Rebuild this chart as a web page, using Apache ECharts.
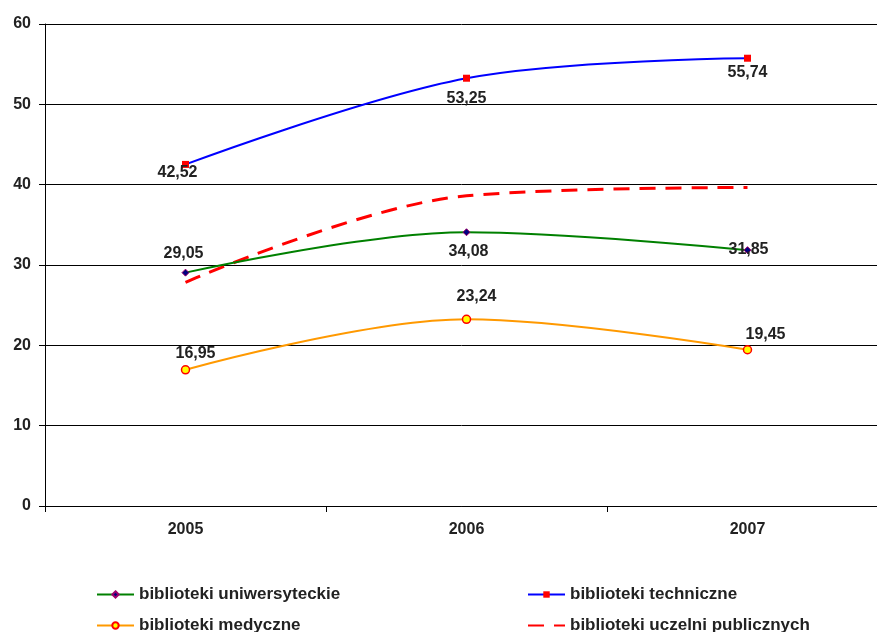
<!DOCTYPE html>
<html>
<head>
<meta charset="utf-8">
<style>
  html, body { margin: 0; padding: 0; background: #fff; }
  #chart { width: 877px; height: 632px; }
</style>
<script src="https://cdn.jsdelivr.net/npm/echarts@6/dist/echarts.min.js"></script>
</head>
<body>
<div id="chart"></div>
<script>
const years = ["2005", "2006", "2007"];
const uniwersyteckie = [29.05, 34.08, 31.85];
const techniczne = [42.52, 53.25, 55.74];
const medyczne = [16.95, 23.24, 19.45];
const uczelniPublicznych = [27.85, 38.62, 39.65];

const font = "'Liberation Sans', Arial, sans-serif";
const smoothness = 0.35;

// przesunięcia etykiet względem punktu [dx, dy]
const offsets = {
    uni: [[-2, -19], [2, 19], [1, -1]],
    tech: [[-8, 8], [0, 20], [0, 14]],
    med: [[10, -16], [10, -23], [18, -15]],
    publ: [[10, 23], [18, -17], [29, 0]]
};

const withLabels = (values, offs) =>
    values.map((v, i) => ({
        value: v,
        label: { show: true, position: "inside", offset: offs[i] }
    }));

const labelStyle = {
    fontFamily: font,
    fontWeight: "bold",
    fontSize: 16,
    color: "#222",
    formatter: p => String(p.value).replace(".", ",")
};

const legendItem = (name, left, top) => ({
    left: left,
    top: top,
    itemWidth: 37,
    itemHeight: 8,
    data: [name],
    textStyle: { fontFamily: font, fontWeight: "bold", fontSize: 17, color: "#222" }
});

const dashedLegend = legendItem("biblioteki uczelni publicznych", 522, 612);
dashedLegend.data = [{ name: "biblioteki uczelni publicznych", itemStyle: { opacity: 0 } }];

const myChart = echarts.init(document.getElementById("chart"));
myChart.setOption({
    animation: false,
    backgroundColor: "#fff",
    grid: { left: 45, top: 24, width: 843, height: 482, containLabel: false, outerBoundsMode: "none" },
    legend: [
        legendItem("biblioteki uniwersyteckie", 91, 581),
        legendItem("biblioteki medyczne", 91, 612),
        legendItem("biblioteki techniczne", 522, 581),
        dashedLegend
    ],
    xAxis: {
        type: "category",
        data: years,
        axisLine: { lineStyle: { color: "#000", width: 1 } },
        axisTick: { show: true, length: 6, lineStyle: { color: "#000" } },
        axisLabel: { margin: 16, fontFamily: font, fontWeight: "bold", fontSize: 16, color: "#222" },
        splitLine: { show: false }
    },
    yAxis: {
        type: "value",
        min: 0,
        max: 60,
        interval: 10,
        axisLine: { show: true, lineStyle: { color: "#000", width: 1 } },
        axisTick: { show: true, length: 6, lineStyle: { color: "#000" } },
        axisLabel: { margin: 14, fontFamily: font, fontWeight: "bold", fontSize: 16, color: "#222" },
        splitLine: { lineStyle: { color: "#000", width: 1 } }
    },
    series: [
        {
            name: "biblioteki uniwersyteckie",
            type: "line",
            smooth: smoothness,
            data: withLabels(uniwersyteckie, offsets.uni),
            symbol: "diamond",
            symbolSize: 7,
            lineStyle: { color: "#008000", width: 2 },
            itemStyle: { color: "#000080", borderColor: "#a0006a", borderWidth: 1 },
            label: labelStyle,
            z: 3
        },
        {
            name: "biblioteki techniczne",
            type: "line",
            smooth: smoothness,
            data: withLabels(techniczne, offsets.tech),
            symbol: "rect",
            symbolSize: 7,
            lineStyle: { color: "#0000ff", width: 2 },
            itemStyle: { color: "#ff0000" },
            label: labelStyle,
            z: 3
        },
        {
            name: "biblioteki medyczne",
            type: "line",
            smooth: smoothness,
            data: withLabels(medyczne, offsets.med),
            symbol: "circle",
            symbolSize: 8,
            lineStyle: { color: "#ff9900", width: 2 },
            itemStyle: { color: "#ffff00", borderColor: "#ff0000", borderWidth: 1.5 },
            label: labelStyle,
            z: 3
        },
        {
            name: "biblioteki uczelni publicznych",
            type: "line",
            smooth: smoothness,
            data: withLabels(uczelniPublicznych, offsets.publ),
            symbol: "none",
            lineStyle: { color: "#ff0000", width: 3, type: [16, 10] },
            itemStyle: { color: "#ff0000" },
            label: labelStyle,
            z: 2
        }
    ]
});
</script>
</body>
</html>
